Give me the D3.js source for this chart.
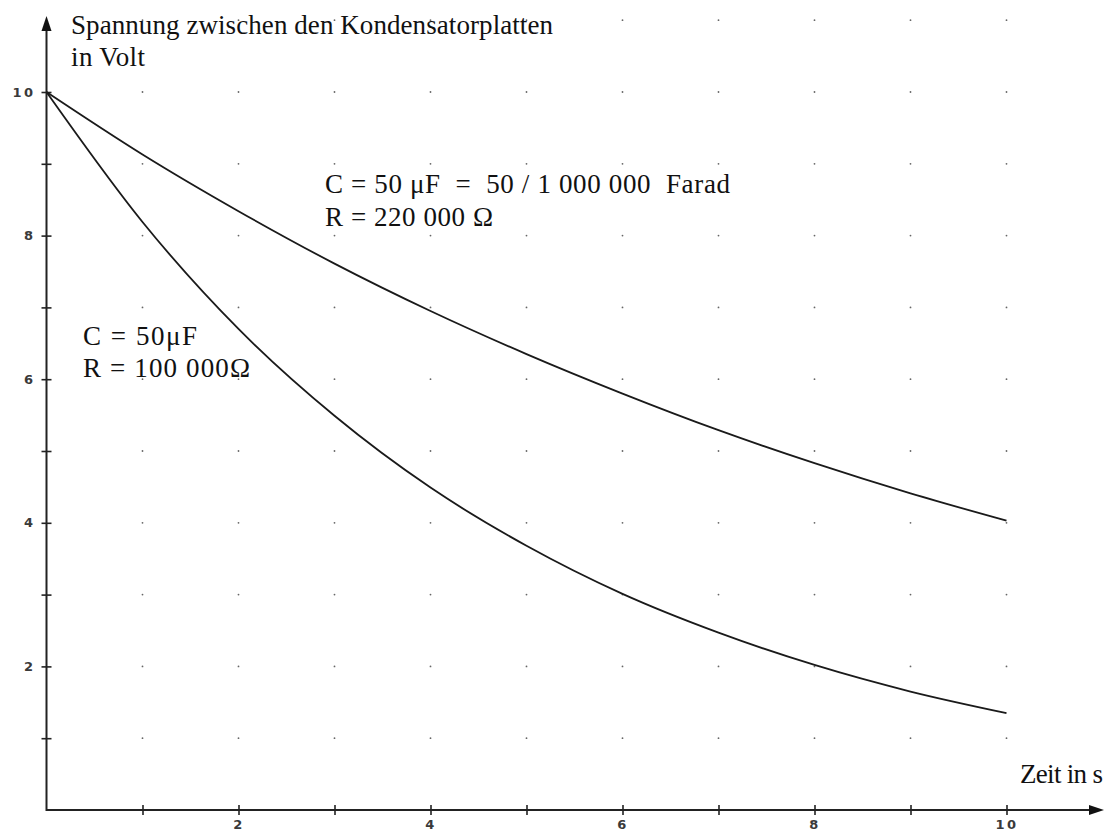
<!DOCTYPE html>
<html>
<head>
<meta charset="utf-8">
<script src="https://cdn.jsdelivr.net/npm/d3@7"></script>
<style>
body { margin:0; background:#fff; }
</style>
</head>
<body>
<div id="chart"></div>
<script>
// Zeit in s
var zeit = [0,1,2,3,4,5,6,7,8,9,10];
// C = 50 µF, R = 220 000 Ohm
var spannungOben = [10,9.13,8.34,7.61,6.95,6.35,5.80,5.29,4.83,4.41,4.03];
// C = 50 µF, R = 100 000 Ohm
var spannungUnten = [10,8.19,6.70,5.49,4.49,3.68,3.01,2.47,2.02,1.65,1.35];

var xTicks = [1,2,3,4,5,6,7,8,9,10],
	yTicks = [1,2,3,4,5,6,7,8,9,10],
	xLabels = [2,4,6,8,10],
	yLabels = [2,4,6,8,10],
	gridX = [1,2,3,4,5,6,7,8,9,10],
	gridY = [1,2,3,4,5,6,7,8,9,10,11];

var width = 1107, height = 834;
var ox = 46.5, oy = 810;

var x = d3.scaleLinear().domain([0,10]).range([ox, ox+960]);
var y = d3.scaleLinear().domain([0,10]).range([oy, oy-718]);

var svg = d3.select('#chart').append('svg')
	.attr('width',width)
	.attr('height',height)
	.style('background','#fff');

var serif = "'Liberation Serif','Times New Roman',serif";

//---grid dots---
var pts = [];
gridX.forEach(function(gx){ gridY.forEach(function(gy){ pts.push([gx,gy]); }); });
svg.append('g').selectAll('circle')
	.data(pts).enter().append('circle')
	.attr('cx',function(d){return x(d[0]);})
	.attr('cy',function(d){return y(d[1]);})
	.attr('r',0.9)
	.style('fill','#666');

//---axes---
svg.append('line')
	.attr('x1',ox).attr('y1',oy).attr('x2',1096).attr('y2',oy)
	.style('stroke','#222').style('stroke-width',2);
svg.append('line')
	.attr('x1',ox).attr('y1',oy+1).attr('x2',ox).attr('y2',24)
	.style('stroke','#222').style('stroke-width',2);
svg.append('path')
	.attr('d','M1104,'+oy+' L1089,'+(oy-5)+' L1089,'+(oy+5)+' Z')
	.style('fill','#111');
svg.append('path')
	.attr('d','M'+ox+',16 L'+(ox-5)+',31 L'+(ox+5)+',31 Z')
	.style('fill','#111');

var xAxis = svg.append('g')
	.attr('transform','translate(0,'+(oy-5)+')')
	.call(d3.axisBottom(x).tickValues(xTicks).tickSize(10).tickPadding(5)
		.tickFormat(function(d){ return xLabels.indexOf(d)>=0 ? d : ''; }));
xAxis.select('.domain').remove();

var yAxis = svg.append('g')
	.attr('transform','translate('+(ox+5)+',0)')
	.call(d3.axisLeft(y).tickValues(yTicks).tickSize(10).tickPadding(6)
		.tickFormat(function(d){ return yLabels.indexOf(d)>=0 ? d : ''; }));
yAxis.select('.domain').remove();

svg.selectAll('.tick line').style('stroke','#222').style('stroke-width',1.6);
svg.selectAll('.tick text')
	.style('font-family',"'DejaVu Sans',sans-serif")
	.style('font-size','13px')
	.style('font-weight','bold')
	.style('letter-spacing','2.5px')
	.style('fill','#3a3a3a');

//---curves---
var line = d3.line()
	.x(function(d,i){ return x(zeit[i]); })
	.y(function(d){ return y(d); })
	.curve(d3.curveMonotoneX);

[spannungOben, spannungUnten].forEach(function(s){
	svg.append('path')
		.datum(s)
		.attr('d',line)
		.style('fill','none')
		.style('stroke','#1a1a1a')
		.style('stroke-width',1.8);
});

//---texts---
function txt(t, tx, ty, size, len){
	var el = svg.append('text')
		.attr('x',tx).attr('y',ty)
		.style('font-family',serif)
		.style('font-size',size+'px')
		.style('fill','#111')
		.style('white-space','pre')
		.text(t);
	if (len) el.attr('textLength',len).attr('lengthAdjust','spacing');
	return el;
}
txt('Spannung zwischen den Kondensatorplatten',71,34,27,482);
txt('in Volt',71,66,27,74);
txt('Zeit in s',1020,783,27,83);
txt('C = 50 \u03bcF  =  50 / 1 000 000  Farad',325,193,27,405);
txt('R = 220 000 \u03a9',325,226,27,168);
txt('C = 50\u03bcF',83,345,27,114);
txt('R = 100 000\u03a9',83,377,27,167);
</script>
</body>
</html>
